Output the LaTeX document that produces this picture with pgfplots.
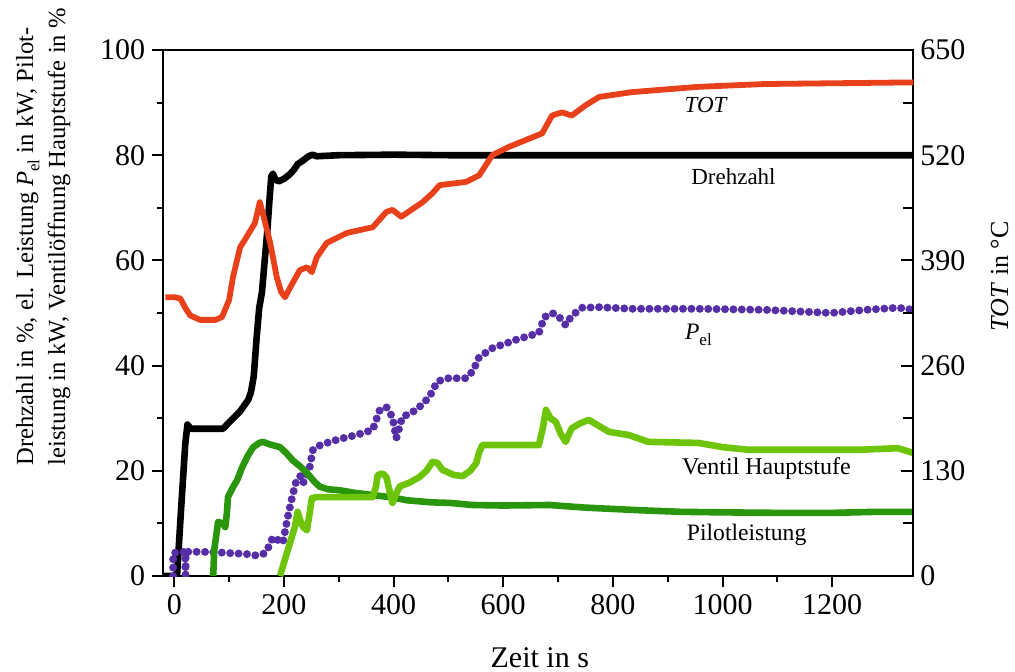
\documentclass[border=0pt]{standalone}
\usepackage{fontspec}
\setmainfont{Liberation Serif}
\usepackage{pgfplots}
\pgfplotsset{compat=1.18}

\definecolor{totred}{RGB}{232,64,26}
\definecolor{pelpurple}{RGB}{86,46,166}
\definecolor{pilotgreen}{RGB}{42,150,14}
\definecolor{ventilgreen}{RGB}{110,196,8}

\pgfplotsset{
  common/.style={
    scale only axis, width=375pt, height=263pt,
    xmin=-20, xmax=1348,
    /pgf/number format/assume math mode=true,
    /pgf/number format/1000 sep={},
    scaled ticks=false,
    tick label style={font=\fontsize{15}{15}\selectfont},
    label style={font=\fontsize{12.3}{16}\selectfont},
    axis line style={line width=1pt},
    every tick/.append style={black, line width=1pt},
  }
}

\begin{document}
\begin{tikzpicture}
\begin{axis}[
  common,
  ymin=0, ymax=100,
  xtick={0,200,...,1200}, minor x tick num=1,
  ytick={0,20,...,100}, minor y tick num=1,
  xtick pos=bottom, ytick pos=left, tick align=outside,
  major tick length=5.5pt, minor tick length=3pt,
  xlabel={Zeit in s},
  xlabel style={at={(axis description cs:0.502,-0.155)}, anchor=center, font=\fontsize{15}{16}\selectfont},
  ylabel={Drehzahl in \%, el. Leistung \textit{P}\raisebox{-0.55ex}{\fontsize{8.5}{9}\selectfont el} in kW, Pilot-\\leistung in kW, Ventilöffnung Hauptstufe in \%},
  ylabel style={at={(axis description cs:-0.16,0.645)}, anchor=center, align=left},
]
% Drehzahl
\addplot[black, line width=3.3pt, line join=round] coordinates {
(-20,0) (5,0) (12,12) (20,25) (24,28.8) (30,28) (60,28) (89,28) (100,29.2) (120,31.3)
(135,33.5) (140,35) (145,38) (150,45) (155,51) (160,54) (165,60) (170,66) (174,72)
(177,76) (180,76.5) (184,75.5) (190,75) (200,75.5) (210,76.3) (218,77.2) (225,78.3)
(235,79) (245,79.8) (252,80.1) (260,79.8) (300,80) (400,80.1) (500,80) (600,80)
(700,80) (800,80) (1000,80) (1200,80) (1348,80)
};
% P_el
\addplot[pelpurple, line width=4pt, line cap=round, dash pattern=on 0pt off 4.2pt] coordinates {
(-2,0) (-2,4.4) (10,4.5) (20,4.6) (20.5,0.2) (21,4.6) (50,4.6) (80,4.5) (110,4.3)
(130,4.2) (150,3.9) (165,4.3) (172,5.5) (180,7.4) (190,6.8) (198,6.3) (207,11.2)
(215,15) (223,18.3) (230,19) (235,17.7) (242,19) (247,20.7) (253,24) (265,24.8)
(278,25.3) (300,26) (332,26.8) (362,27.8) (375,31.6) (387,32.1) (398,30.2) (405,26.2)
(416,30.2) (442,31.6) (465,34) (480,37) (500,37.6) (532,37.6) (545,39) (556,41.6)
(580,43.3) (623,44.9) (665,46.2) (675,49.2) (689,50) (700,49.5) (714,47.7) (725,49.5)
(744,51) (775,51.1) (835,50.8) (956,50.8) (1078,50.6) (1198,50) (1260,50.6) (1320,51) (1348,50.6)
};
% Pilotleistung
\addplot[pilotgreen, line width=3.3pt, line join=round] coordinates {
(71,0) (73,5) (80,10.3) (88,10) (93,9.3) (96,12) (98,15) (105,16.5) (115,18.3)
(124,20.7) (135,23) (144,24.5) (155,25.3) (162,25.5) (175,25) (193,24.5) (205,23.3)
(216,22) (230,20.8) (242,19.6) (255,18) (265,17) (280,16.5) (302,16.3) (330,15.8)
(362,15.4) (400,14.9) (424,14.4) (470,14) (502,13.9) (544,13.5) (600,13.4) (684,13.5)
(750,13) (850,12.5) (925,12.2) (1000,12.1) (1107,12) (1200,12) (1280,12.2) (1348,12.2)
};
% Ventil Hauptstufe
\addplot[ventilgreen, line width=3.3pt, line join=round] coordinates {
(193,0) (200,2.5) (211,6.3) (220,9.3) (225,12.2) (230,10.5) (235,9.3) (242,8.7)
(247,12) (251,14.8) (260,15) (300,15) (362,15) (368,17) (371,19.2) (380,19.5)
(387,18.8) (393,16) (398,13.9) (404,15.5) (411,17) (430,17.8) (447,18.8) (460,20)
(471,21.7) (480,21.5) (489,20.2) (510,19.2) (526,19) (540,20) (551,21.5) (556,23.5)
(562,24.9) (620,24.9) (665,24.9) (672,28) (678,31.6) (686,30) (696,29.3) (705,27)
(714,25.5) (720,27) (725,28.1) (740,29) (756,29.7) (775,28.5) (793,27.4) (829,26.8)
(865,25.5) (956,25.3) (1000,24.5) (1047,24) (1169,24) (1250,24) (1320,24.3) (1348,23.4)
};
\node[font=\fontsize{11.5}{13}\selectfont\itshape] at (axis cs:969,89.5) {TOT};
\node[font=\fontsize{11.5}{13}\selectfont] at (axis cs:1020,75.9) {Drehzahl};
\node[font=\fontsize{11.8}{13}\selectfont] at (axis cs:956,45.8) {\textit{P}\raisebox{-0.6ex}{\fontsize{8.5}{9}\selectfont el}};
\node[font=\fontsize{12}{13}\selectfont] at (axis cs:1080,20.5) {Ventil Hauptstufe};
\node[font=\fontsize{11.8}{13}\selectfont] at (axis cs:1044,7.8) {Pilotleistung};
\end{axis}

\begin{axis}[
  common,
  ymin=0, ymax=650,
  axis y line*=right, axis x line=none,
  ytick={0,130,...,650}, minor y tick num=1,
  tick align=inside,
  major tick length=6pt, minor tick length=5pt,
  ylabel={\textit{TOT} in °C},
  ylabel style={at={(axis description cs:1.115,0.570)}, anchor=center, font=\fontsize{13}{15}\selectfont},
]
\addplot[totred, line width=2.9pt, line join=round] coordinates {
(-16,344.5) (0,344.5) (11,343) (20,331.5) (29,322) (47,316.5) (75,316.5) (87,320)
(100,341) (107,369) (120,406) (135,422.5) (147,436) (156,462) (165,439) (175,411.5)
(187,369) (195,351) (202,344.5) (215,361) (229,378) (242,381.5) (251,375.5) (260,394)
(278,411.5) (315,424) (362,431) (387,450) (398,452.5) (414,444) (453,462) (471,473)
(484,483) (532,487) (556,495) (580,520) (611,530.5) (671,547) (689,569) (707,573)
(725,569) (751,582) (775,592) (835,598) (956,604.5) (1078,608) (1348,610)
};
\end{axis}
\pgfresetboundingbox
\path[use as bounding box] (-81.65pt,-47.5pt) rectangle (425.85pt,288pt);
\end{tikzpicture}
\end{document}
